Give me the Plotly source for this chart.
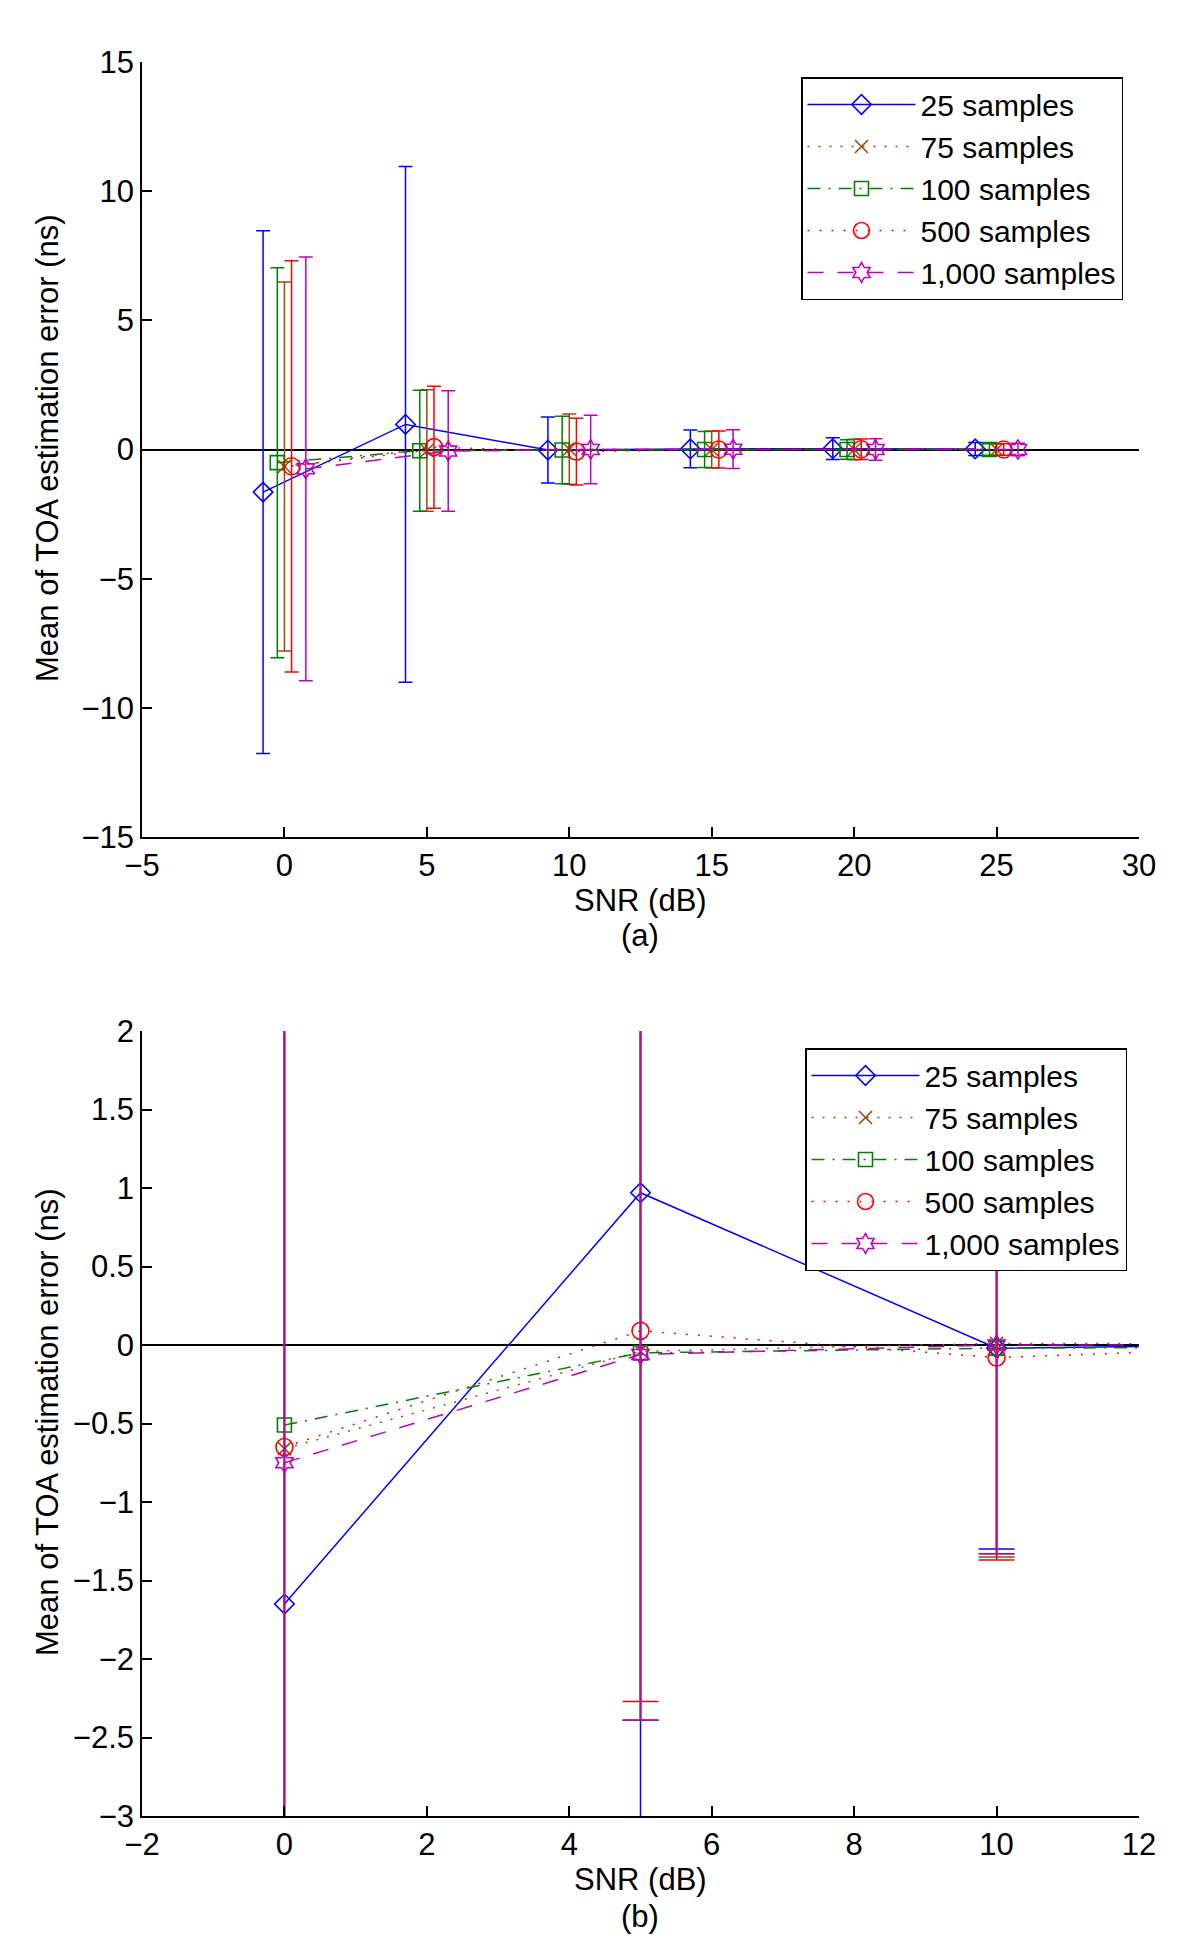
import plotly.graph_objects as go

# SNR grid (dB) and per-series results: mean TOA error (ns) and error-bar half length
snr = [0, 5, 10, 15, 20, 25]
series_names = ["25 samples", "75 samples", "100 samples", "500 samples", "1,000 samples"]

mean_25 = [-1.65, 0.97, -0.02, 0.02, 0.03, 0.02]
err_25 = [10.12, 9.98, 1.28, 0.73, 0.42, 0.25]

mean_75 = [-0.66, -0.04, 0.01, 0.0, 0.0, 0.0]
err_75 = [7.14, 2.35, 1.36, 0.72, 0.40, 0.22]

mean_100 = [-0.51, -0.05, -0.02, 0.0, 0.0, 0.0]
err_100 = [7.55, 2.34, 1.31, 0.70, 0.38, 0.22]

mean_500 = [-0.65, 0.09, -0.08, 0.0, 0.01, 0.0]
err_500 = [7.96, 2.36, 1.29, 0.72, 0.40, 0.22]

mean_1000 = [-0.75, -0.06, 0.0, 0.01, 0.0, 0.0]
err_1000 = [8.20, 2.33, 1.33, 0.75, 0.42, 0.24]

# horizontal shift used in panel (a) so the bars don't sit on top of each other
x_shift = [-0.75, 0.0, -0.25, 0.25, 0.75]

x_ticks_a = [-5, 0, 5, 10, 15, 20, 25, 30]
y_ticks_a = [15, 10, 5, 0, -5, -10, -15]
x_ticks_b = [-2, 0, 2, 4, 6, 8, 10, 12]
y_ticks_b = [2, 1.5, 1, 0.5, 0, -0.5, -1, -1.5, -2, -2.5, -3]


def fmt(v):
    s = f"{v:g}"
    return s.replace("-", "\u2212")


means = [mean_25, mean_75, mean_100, mean_500, mean_1000]
errs = [err_25, err_75, err_100, err_500, err_1000]
colors = ["#0000FF", "#994C14", "#008000", "#FF0000", "#BF00BF"]
symbols = ["diamond-open", "x-thin-open", "square-open", "circle-open", "hexagram-open"]
sizes = [15, 13, 14, 17, 15]
dashes = ["solid", "2px,9px", "13px,8px,2px,8px", "2px,10px", "16px,14px"]

FONT = "Liberation Sans, Arial, Helvetica, sans-serif"
FS = 31
W, H = 1200, 1951
OFF = 8  # page body margin: the figure starts 8px in from the page corner
# plot area in page pixels: x 142..1139, y 62..1816
L, T = 142 - OFF, 62 - OFF
R, B = W - (1139 - OFF), H - (1816 - OFF)
PW, PH = W - L - R, H - T - B


def py(Y):
    return (H - B - (Y - OFF)) / PH


def px_(X):
    return (X - OFF - L) / PW


fig = go.Figure()

for i, name in enumerate(series_names):
    xs = [v + x_shift[i] for v in snr]
    fig.add_trace(go.Scatter(
        x=xs, y=means[i], name=name, mode="lines+markers",
        line=dict(color=colors[i], width=1.5, dash=dashes[i]),
        marker=dict(symbol=symbols[i], size=sizes[i], color=colors[i],
                    line=dict(color=colors[i], width=1.6)),
        error_y=dict(type="data", array=errs[i], color=colors[i], thickness=1.5, width=7),
        xaxis="x", yaxis="y", legend="legend",
    ))

for i, name in enumerate(series_names):
    fig.add_trace(go.Scatter(
        x=snr, y=means[i], name=name, mode="lines+markers",
        line=dict(color=colors[i], width=1.5, dash=dashes[i]),
        marker=dict(symbol=symbols[i], size=sizes[i], color=colors[i],
                    line=dict(color=colors[i], width=1.6)),
        error_y=dict(type="data", array=errs[i], color=colors[i], thickness=1.5, width=18),
        xaxis="x2", yaxis="y2", legend="legend2",
    ))

axis_common = dict(
    showgrid=False, showline=True, linecolor="black", linewidth=1.5,
    ticks="inside", ticklen=10, tickwidth=1.5, tickcolor="black",
    tickfont=dict(family=FONT, size=FS, color="black"),
    tickmode="array",
)

legend_common = dict(
    xanchor="right", yanchor="top",
    bgcolor="white", bordercolor="black", borderwidth=1.5,
    font=dict(family=FONT, size=30, color="black"), itemwidth=108,
    tracegroupgap=0,
)

fig.update_layout(
    width=W, height=H,
    margin=dict(l=L, r=R, t=T, b=B),
    paper_bgcolor="white", plot_bgcolor="white",
    font=dict(family=FONT, size=FS, color="black"),
    xaxis=dict(domain=[0, 1], range=[-5, 30], anchor="y", zeroline=False,
               tickvals=x_ticks_a, ticktext=[fmt(v) for v in x_ticks_a], **axis_common),
    yaxis=dict(domain=[py(837), 1], range=[-15, 15], anchor="x", zeroline=True,
               zerolinecolor="black", zerolinewidth=1.5,
               tickvals=y_ticks_a, ticktext=[fmt(v) for v in y_ticks_a], **axis_common),
    xaxis2=dict(domain=[0, 1], range=[-2, 12], anchor="y2", zeroline=False,
                tickvals=x_ticks_b, ticktext=[fmt(v) for v in x_ticks_b], **axis_common),
    yaxis2=dict(domain=[0, py(1031)], range=[-3, 2], anchor="x2", zeroline=True,
                zerolinecolor="black", zerolinewidth=1.5,
                tickvals=y_ticks_b, ticktext=[fmt(v) for v in y_ticks_b], **axis_common),
    legend=dict(x=px_(1123), y=py(77), **legend_common),
    legend2=dict(x=px_(1127), y=py(1048), **legend_common),
    showlegend=True,
)

labels = [
    ("SNR (dB)", px_(640), py(900), 0),
    ("(a)", px_(640), py(936), 0),
    ("SNR (dB)", px_(640), py(1880), 0),
    ("(b)", px_(640), py(1916), 0),
    ("Mean of TOA estimation error (ns)", px_(47), py(449), -90),
    ("Mean of TOA estimation error (ns)", px_(47), py(1423), -90),
]
for text, ax, ay, rot in labels:
    fig.add_annotation(text=text, x=ax, y=ay, xref="paper", yref="paper",
                       xanchor="center", yanchor="middle", showarrow=False,
                       textangle=rot, font=dict(family=FONT, size=FS, color="black"))

fig.write_html("out.html")
